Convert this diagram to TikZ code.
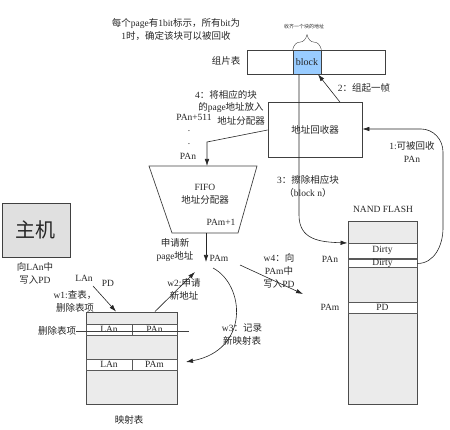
\documentclass[tikz,border=0pt]{standalone}
\usepackage{fontspec}
\setmainfont{Liberation Serif}
\newfontfamily\cjk{Noto Sans CJK SC}
\newcommand{\zh}[1]{{\cjk #1}}
\usetikzlibrary{arrows.meta,decorations.pathreplacing}
\definecolor{blockblue}{RGB}{153,204,255}

\begin{document}
\begin{tikzpicture}[x=1pt,y=-1pt,
  every node/.style={font=\fontsize{9.5}{13}\selectfont,inner sep=0pt,align=center,text=black!85},
  box/.style={draw=black!75,line width=0.7pt},
  memory/.style={draw=black!70,line width=0.9pt,fill=black!8},
  cell/.style={draw=black!65,line width=0.9pt,fill=white,minimum height=11pt},
  link/.style={draw=black!85,line width=0.6pt},
  >={Latex[length=7pt,width=4.5pt]}]
\useasboundingbox (0,0) rectangle (450,430);

  % fragment table
  \node (note) at (176,29) {\zh{每个}page\zh{有}1bit\zh{标示，所有}bit\zh{为}\\1\zh{时，确定该块可以被回收}};
  \node (fragname) at (226,61) {\zh{组片表}};
  \node[box,minimum width=138pt,minimum height=24pt] (fragbar) at (316,62) {};
  \node[box,fill=blockblue,minimum width=28pt,minimum height=24pt,font=\fontsize{10}{12}\selectfont] (block) at (307,62) {block};
  \draw[black!75,decorate,decoration={brace,amplitude=15pt}] (block.north west) -- (block.north east);
  \node[font=\fontsize{5}{6}\selectfont] (bracetext) at (304,27) {\zh{收齐一个块的地址}};

  % address recycler
  \node[box,minimum width=94pt,minimum height=55pt] (recycler) at (315,130) {\zh{地址回收器}};
  \node (lbl2) at (364,88) {2\zh{：组起一帧}};
  \node (lbl4a) at (226,95) {4\zh{：将相应的块}};
  \node (lbl4b) at (231,108) {\zh{的}page\zh{地址放入}};
  \node (lbl4c) at (241,121) {\zh{地址分配器}};
  \node (pan511) at (194,117) {PAn+511};
  \node (dotA) at (189,131) {.};
  \node (dotB) at (189,144) {.};
  \node (panfifo) at (188,156) {PAn};
  \node (lbl3) at (308,186) {3\zh{：擦除相应块}\\\zh{（}block n\zh{）}};
  \node (lbl1) at (412,152) {1:\zh{可被回收}\\PAn};

  % FIFO
  \draw[box] (149,166) -- (257,166) -- (238,233) -- (172,233) -- cycle;
  \coordinate (fifotop) at (207,166);
  \coordinate (fifobot) at (206,233);
  \node (fifo) at (205,194) {FIFO\\\zh{地址分配器}};
  \node (pamnext) at (221,222) {PAm+1};
  \coordinate (pamtip) at (206,262);
  \node (pam) at (219,258) {PAm};
  \node (apply) at (175,250) {\zh{申请新}\\page\zh{地址}};

  % host
  \node[box,fill=black!12,minimum width=68pt,minimum height=54pt,font=\fontsize{20}{24}\selectfont] (host) at (36,230) {\zh{主机}};
  \node (hostnote) at (35,273) {\zh{向}LAn\zh{中}\\\zh{写入}PD};
  \node (lan) at (84,278) {LAn};
  \node (pd) at (108,283) {PD};
  \node (w1) at (75,301) {w1:\zh{查表，}\\\zh{删除表项}};
  \node (w2) at (184,289) {w2:\zh{申请}\\\zh{新地址}};
  \node (w3) at (242,335) {w3\zh{：记录}\\\zh{新映射表}};
  \node (w4) at (279,271) {w4\zh{：向}\\PAm\zh{中}\\\zh{写入}PD};

  % mapping table
  \node[memory,minimum width=91pt,minimum height=92pt] (map) at (131.5,358) {};
  \node[cell,minimum width=46pt] (lanA) at (109,329.5) {LAn};
  \node[cell,minimum width=45pt] (panA) at (154.5,329.5) {PAn};
  \node[cell,minimum width=46pt] (lanB) at (109,364.5) {LAn};
  \node[cell,minimum width=45pt] (pamB) at (154.5,364.5) {PAm};
  \node (dellabel) at (57,331) {\zh{删除表项}};
  \coordinate (strikeend) at (189,331);
  \draw[black!75,line width=0.7pt] (dellabel.east) -- (strikeend);
  \node (mapname) at (129,420) {\zh{映射表}};

  % nand flash
  \node (flashname) at (383,209) {NAND\ FLASH};
  \node[memory,minimum width=69pt,minimum height=183pt] (flash) at (382.5,312.5) {};
  \node[cell,minimum width=69pt,minimum height=15pt] (dirtyA) at (382.5,250.5) {Dirty};
  \node[cell,minimum width=69pt,minimum height=7pt] (dirtyB) at (382.5,263.5) {Dirty};
  \node[cell,minimum width=69pt] (pdcell) at (382.5,307.5) {PD};
  \node (panflash) at (330,259) {PAn};
  \node (pamflash) at (330,307) {PAm};

  \coordinate (w3start) at (213,268);
  \coordinate (w3tip) at (186,362);
  \coordinate (w4start) at (240,265);
  \coordinate (w4tip) at (303,294);
  \coordinate (w1start) at (93,286);
  \coordinate (w2tip) at (195,272);

\draw[link,->] (recycler.north -| 340,0) -- (block.south -| 318,0);
\draw[link,->] (block.south -| 299,0) -- (299,215) .. controls (299,240) and (320,242) .. (flash.west |- 0,243);
\draw[link,->] (dirtyB.east) to[out=0,in=270] (443,228) -- (443,152) to[out=90,in=0] (421,129) -- (recycler.east |- 0,129);
\draw[link,->] (recycler.west) -- (fifotop |- 0,142) -- (fifotop);
\draw[link,->] (fifobot) -- (pamtip);
\draw[link,->] (w1start) -- (map.north -| 116,0);
\draw[link,->] (map.north -| 155,0) -- (w2tip);
\draw[link,->] (w3start) .. controls (245,285) and (250,350) .. (w3tip);
\draw[link,->] (w4start) -- (w4tip);

\end{tikzpicture}
\end{document}
